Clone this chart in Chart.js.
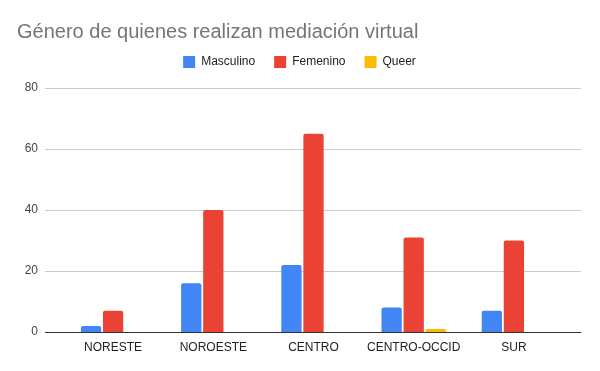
<!DOCTYPE html>
<html>
<head>
<meta charset="utf-8">
<script src="https://cdn.jsdelivr.net/npm/chart.js@4/dist/chart.umd.min.js"></script>
<style>
html,body{margin:0;padding:0;background:#fff;}
#wrap{width:600px;height:371px;position:relative;}
</style>
</head>
<body>
<div id="wrap"><canvas id="c" width="600" height="371"></canvas></div>
<script>
const titleText = 'Género de quienes realizan mediación virtual';
const categories = ['NORESTE', 'NOROESTE', 'CENTRO', 'CENTRO-OCCID', 'SUR'];
const seriesNames = ['Masculino', 'Femenino', 'Queer'];
const masculino = [2, 16, 22, 8, 7];
const femenino = [7, 40, 65, 31, 30];
const queer = [0, 0, 0, 1, 0];
const yTicks = [0, 20, 40, 60, 80];

const colors = ['#4285F4', '#EA4335', '#FBBC04'];
const FONT = '"Liberation Sans", Arial, sans-serif';

const gridPlugin = {
  id: 'extGrid',
  afterLayout(chart) {
    const lg = chart.legend;
    if (lg) {
      // center legend on the canvas and raise it slightly
      lg.left += 9; lg.right += 9;
      lg.top -= 10; lg.bottom -= 10;
    }
  },
  beforeDatasetsDraw(chart) {
    const y = chart.scales.y, ctx = chart.ctx;
    ctx.save();
    ctx.strokeStyle = '#cccccc';
    ctx.lineWidth = 1;
    yTicks.forEach(v => {
      if (v === 0) return;
      const py = Math.round(y.getPixelForValue(v)) + 0.5;
      ctx.beginPath(); ctx.moveTo(45, py); ctx.lineTo(581, py); ctx.stroke();
    });
    ctx.restore();
  },
  afterDatasetsDraw(chart) {
    const y = chart.scales.y, ctx = chart.ctx;
    ctx.save();
    ctx.strokeStyle = '#333333';
    ctx.lineWidth = 1;
    const py = Math.round(y.getPixelForValue(0)) + 0.5;
    ctx.beginPath(); ctx.moveTo(45, py); ctx.lineTo(581, py); ctx.stroke();
    ctx.restore();
  }
};

new Chart(document.getElementById('c'), {
  type: 'bar',
  data: {
    labels: categories,
    datasets: [masculino, femenino, queer].map((d, i) => ({
      label: seriesNames[i],
      data: d,
      backgroundColor: colors[i],
      borderWidth: 0,
      borderRadius: {topLeft: 2, topRight: 2, bottomLeft: 0, bottomRight: 0},
      borderSkipped: 'bottom',
      categoryPercentage: 0.66,
      barPercentage: 0.92
    }))
  },
  options: {
    responsive: false,
    animation: false,
    devicePixelRatio: 1,
    layout: {padding: {left: 17, right: 36, top: 0, bottom: 0}},
    plugins: {
      title: {
        display: true,
        text: titleText,
        align: 'start',
        color: '#757575',
        font: {family: FONT, size: 20, weight: 'normal'},
        padding: {top: 20, bottom: 3}
      },
      legend: {
        display: true,
        position: 'top',
        align: 'center',
        labels: {
          boxWidth: 12,
          boxHeight: 12,
          padding: 19,
          color: '#222222',
          font: {family: FONT, size: 12}
        }
      },
      tooltip: {enabled: false}
    },
    scales: {
      x: {
        grid: {display: false, drawTicks: false},
        border: {display: false},
        ticks: {color: '#222222', font: {family: FONT, size: 12}, padding: 8, maxRotation: 0},
        afterFit(s) { s.height = 39; }
      },
      y: {
        min: 0,
        max: 80,
        grid: {display: false, drawTicks: false},
        border: {display: false},
        ticks: {
          stepSize: 20,
          color: '#444444',
          font: {family: FONT, size: 12},
          padding: 25,
          callback: (v) => yTicks.includes(v) ? String(v) : ''
        },
        afterFit(s) { s.width = 46; }
      }
    }
  },
  plugins: [gridPlugin]
});
</script>
</body>
</html>
